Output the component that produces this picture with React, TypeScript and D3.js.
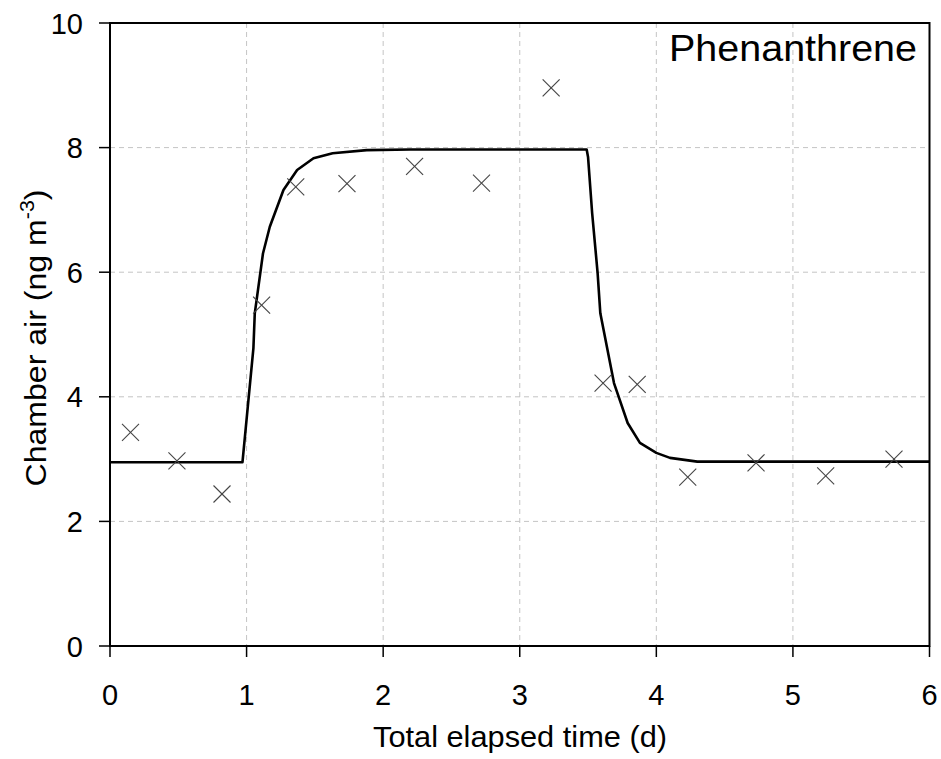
import React from 'react';
import * as d3 from 'd3';

// observed points (time in d, concentration in ng m-3)
const obsTime = [0.15, 0.49, 0.82, 1.11, 1.36, 1.735, 2.23, 2.72, 3.23, 3.61, 3.86, 4.23, 4.73, 5.24, 5.74];
const obsConc = [3.43, 2.97, 2.44, 5.47, 7.37, 7.42, 7.7, 7.43, 8.96, 4.22, 4.2, 2.71, 2.94, 2.73, 3.0];

// model curve
const modelTime = [0, 0.97, 1.05, 1.06, 1.12, 1.17, 1.27, 1.37, 1.49, 1.63, 1.88, 2.2, 3.49, 3.5, 3.53, 3.57, 3.59, 3.69, 3.79, 3.88, 4.0, 4.1, 4.3, 6.0];
const modelConc = [2.95, 2.95, 4.78, 5.34, 6.3, 6.73, 7.32, 7.64, 7.83, 7.91, 7.96, 7.97, 7.97, 7.85, 6.95, 5.99, 5.34, 4.22, 3.58, 3.26, 3.1, 3.02, 2.96, 2.96];

const xTicks = [0, 1, 2, 3, 4, 5, 6];
const yTicks = [0, 2, 4, 6, 8, 10];

const W = 941;
const H = 759;
const font = 'Arial, "Liberation Sans", sans-serif';

export default function App() {
  const x = d3.scaleLinear().domain([0, 6]).range([110, 929.5]);
  const y = d3.scaleLinear().domain([0, 10]).range([646, 23]);

  const line = d3
    .line<number>()
    .x((_, i) => x(modelTime[i]))
    .y((d) => y(d));

  const cs = 8.5;

  return (
    <svg
      width={W}
      height={H}
      style={{ position: 'absolute', left: 0, top: 0, background: '#fff' }}
      fontFamily={font}
    >
      <rect x={0} y={0} width={W} height={H} fill="#fff" />
      {/* grid */}
      {xTicks.slice(1, -1).map((t) => (
        <line key={'gx' + t} x1={x(t)} x2={x(t)} y1={y(10)} y2={y(0)} stroke="#c4c4c4" strokeWidth={1} strokeDasharray="5,4" />
      ))}
      {yTicks.slice(1, -1).map((t) => (
        <line key={'gy' + t} x1={x(0)} x2={x(6)} y1={y(t)} y2={y(t)} stroke="#c4c4c4" strokeWidth={1} strokeDasharray="5,4" />
      ))}
      {/* model */}
      <path d={line(modelConc) || ''} fill="none" stroke="#000" strokeWidth={2.6} strokeLinejoin="round" />
      {/* observations */}
      {obsTime.map((t, i) => {
        const cx = x(t);
        const cy = y(obsConc[i]);
        return (
          <g key={'o' + i} stroke="#444" strokeWidth={1.1}>
            <line x1={cx - cs} y1={cy - cs} x2={cx + cs} y2={cy + cs} />
            <line x1={cx - cs} y1={cy + cs} x2={cx + cs} y2={cy - cs} />
          </g>
        );
      })}
      {/* frame */}
      <rect x={x(0)} y={y(10)} width={x(6) - x(0)} height={y(0) - y(10)} fill="none" stroke="#000" strokeWidth={2} />
      {/* ticks */}
      {xTicks.map((t) => (
        <g key={'tx' + t}>
          <line x1={x(t)} x2={x(t)} y1={y(0)} y2={y(0) + 11} stroke="#000" strokeWidth={1.5} />
          <text x={x(t)} y={705} textAnchor="middle" fontSize={29}>{t}</text>
        </g>
      ))}
      {yTicks.map((t) => (
        <g key={'ty' + t}>
          <line x1={x(0) - 11} x2={x(0)} y1={y(t)} y2={y(t)} stroke="#000" strokeWidth={1.5} />
          <text x={83} y={y(t) + 10.5} textAnchor="end" fontSize={29}>{t}</text>
        </g>
      ))}
      {/* titles */}
      <text x={520} y={747} textAnchor="middle" fontSize={30} textLength={294} lengthAdjust="spacingAndGlyphs">
        Total elapsed time (d)
      </text>
      <text
        transform="translate(46,338) rotate(-90)"
        textAnchor="middle"
        fontSize={30}
        textLength={297}
        lengthAdjust="spacingAndGlyphs"
      >
        Chamber air (ng m<tspan dy={-12} fontSize={20}>-3</tspan><tspan dy={12}>)</tspan>
      </text>
      <text x={917} y={61} textAnchor="end" fontSize={37} textLength={248} lengthAdjust="spacingAndGlyphs">
        Phenanthrene
      </text>
    </svg>
  );
}
